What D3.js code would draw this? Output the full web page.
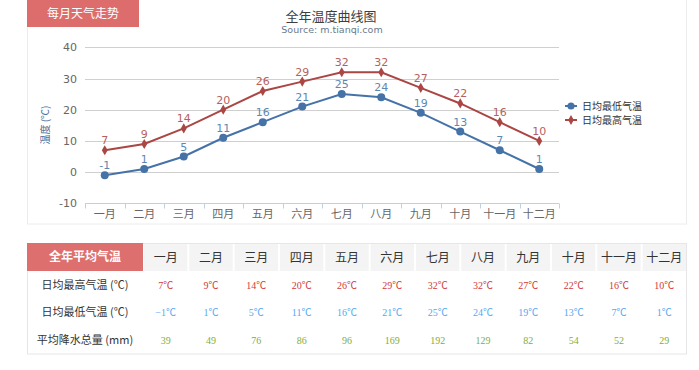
<!DOCTYPE html>
<html><head><meta charset="utf-8">
<script src="https://cdn.jsdelivr.net/npm/d3@7"></script>
<style>
html,body{margin:0;padding:0;background:#fff;}
svg{display:block;font-family:"Noto Sans CJK SC","Open Sans",sans-serif;}
</style></head>
<body><svg id="c" width="699" height="370"></svg>
<script>
const months = ["一月","二月","三月","四月","五月","六月","七月","八月","九月","十月","十一月","十二月"];
const lowTemps = [-1,1,5,11,16,21,25,24,19,13,7,1];
const highTemps = [7,9,14,20,26,29,32,32,27,22,16,10];
const precip = [39,49,76,86,96,169,192,129,82,54,52,29];
const yTicks = [-10,0,10,20,30,40];
const seriesNames = ["日均最低气温","日均最高气温"];
const rowLabels = ["日均最高气温 (℃)","日均最低气温 (℃)","平均降水总量 (mm)"];

const svg = d3.select("#c");

// panel
svg.append("rect").attr("x",27.5).attr("y",-2).attr("width",659).attr("height",226)
  .attr("fill","#fff").attr("stroke","#ececec");
svg.append("rect").attr("x",27).attr("y",0).attr("width",112).attr("height",27).attr("fill","#dd6c6c");
svg.append("text").attr("x",83).attr("y",18).attr("text-anchor","middle").attr("fill","#fff")
  .attr("font-size",12).text("每月天气走势");

// title
svg.append("text").attr("x",331).attr("y",21).attr("text-anchor","middle").attr("fill","#3e3e3e")
  .attr("font-size",13).text("全年温度曲线图");
svg.append("text").attr("x",332).attr("y",33).attr("text-anchor","middle").attr("fill","#6a7a8c")
  .attr("font-size",9.5).attr("font-family","DejaVu Sans, sans-serif").text("Source: m.tianqi.com");

const x = d3.scaleBand().domain(months).range([85,559]);
const y = d3.scaleLinear().domain([-10,40]).range([203.3,47.3]);

// grid
svg.append("g").selectAll("line").data(yTicks.filter(d=>d!==-10)).join("line")
  .attr("x1",85).attr("x2",559).attr("y1",d=>Math.round(y(d))+0.5).attr("y2",d=>Math.round(y(d))+0.5)
  .attr("stroke","#cfcfcf").attr("stroke-width",1);

// y axis labels
svg.append("g").selectAll("text").data(yTicks).join("text")
  .attr("x",77).attr("y",d=>y(d)+4).attr("text-anchor","end").attr("fill","#666")
  .attr("font-size",11).attr("font-family","DejaVu Sans, sans-serif").text(d=>d);

// y title
svg.append("text").attr("transform","translate(49,125) rotate(-90)").attr("text-anchor","middle")
  .attr("fill","#4d6f99").attr("font-size",10).text("温度 (℃)");

// x axis
const gx = svg.append("g").attr("transform",`translate(0,${Math.round(y(-10))+0.5})`);
gx.append("line").attr("x1",85).attr("x2",559).attr("stroke","#c0d0e0");
gx.selectAll("line.t").data(d3.range(13)).join("line").attr("class","t")
  .attr("x1",i=>Math.round(85+i*x.step())+0.5).attr("x2",i=>Math.round(85+i*x.step())+0.5)
  .attr("y1",0).attr("y2",5).attr("stroke","#c0d0e0");
gx.selectAll("text").data(months).join("text")
  .attr("x",d=>x(d)+x.bandwidth()/2).attr("y",14).attr("text-anchor","middle")
  .attr("fill","#666").attr("font-size",11).text(d=>d);

const cx = d=>x(d)+x.bandwidth()/2;
const line = d3.line().x(d=>cx(d.m)).y(d=>y(d.v));
const series = [
  {name:seriesNames[0], vals:lowTemps, color:"#4572a7", marker:"circle"},
  {name:seriesNames[1], vals:highTemps, color:"#aa4643", marker:"diamond"}
];
series.forEach(s=>{
  const data = months.map((m,i)=>({m, v:s.vals[i]}));
  svg.append("path").datum(data).attr("d",line).attr("fill","none")
    .attr("stroke",s.color).attr("stroke-width",2);
  const sym = s.marker==="circle" ? d3.symbol(d3.symbolCircle,50) : d3.symbol(d3.symbolDiamond,30);
  svg.append("g").selectAll("path").data(data).join("path")
    .attr("transform",d=>`translate(${cx(d.m)},${y(d.v)})`).attr("d",sym).attr("fill",s.color);
  svg.append("g").selectAll("text").data(data).join("text")
    .attr("x",d=>cx(d.m)).attr("y",d=>y(d.v)-6).attr("text-anchor","middle")
    .attr("fill",s.color).attr("font-size",11).attr("font-family","DejaVu Sans, sans-serif")
    .attr("opacity",0.85).text(d=>d.v);
});

// legend
series.forEach((s,i)=>{
  const ly = 106 + i*14;
  svg.append("line").attr("x1",565).attr("x2",577).attr("y1",ly).attr("y2",ly).attr("stroke",s.color).attr("stroke-width",2);
  const sym = s.marker==="circle" ? d3.symbol(d3.symbolCircle,40) : d3.symbol(d3.symbolDiamond,28);
  svg.append("path").attr("transform",`translate(571,${ly})`).attr("d",sym).attr("fill",s.color);
  svg.append("text").attr("x",582).attr("y",ly+3.5).attr("fill","#333").attr("font-size",10).text(s.name);
});

// table
const tTop = 243, hH = 28, rH = 27.5, tLeft = 27, c0 = 143, tRight = 687;
const colW = (tRight-c0)/12;
svg.append("rect").attr("x",tLeft+0.5).attr("y",tTop+0.5).attr("width",tRight-tLeft-1).attr("height",hH+3*rH)
  .attr("fill","#fff").attr("stroke","#e6e6e6");
svg.append("rect").attr("x",tLeft).attr("y",tTop).attr("width",c0-tLeft).attr("height",hH).attr("fill","#dd6f6f");
svg.append("text").attr("x",(tLeft+c0)/2).attr("y",tTop+18).attr("text-anchor","middle").attr("fill","#fff")
  .attr("font-size",12).attr("font-weight","bold").text("全年平均气温");
svg.append("g").selectAll("rect").data(months).join("rect")
  .attr("x",(d,i)=>c0+i*colW+1).attr("y",tTop+1).attr("width",colW-2).attr("height",hH-1).attr("fill","#f4f4f4");
svg.append("g").selectAll("text").data(months).join("text")
  .attr("x",(d,i)=>c0+i*colW+colW/2).attr("y",tTop+18.5).attr("text-anchor","middle")
  .attr("fill","#333").attr("font-size",12).text(d=>d);

svg.append("g").selectAll("text").data(rowLabels).join("text")
  .attr("x",(tLeft+c0)/2).attr("y",(d,i)=>tTop+hH+i*rH+17.5).attr("text-anchor","middle")
  .attr("fill","#333").attr("font-size",11).text(d=>d);

const rows = [
  {vals:highTemps, color:"#d03a3a", unit:"℃"},
  {vals:lowTemps, color:"#55a8f2", unit:"℃"},
  {vals:precip, color:"#7fae3e", unit:""}
];
rows.forEach((r,ri)=>{
  svg.append("g").selectAll("text").data(r.vals).join("text")
    .attr("x",(d,i)=>c0+i*colW+colW/2).attr("y",tTop+hH+ri*rH+17.5).attr("text-anchor","middle")
    .attr("fill",r.color).attr("font-size",10).attr("font-family","Liberation Serif, Noto Sans CJK SC, serif")
    .text(d=>(d<0?"\u2212"+(-d):d)+r.unit);
});
</script></body></html>
